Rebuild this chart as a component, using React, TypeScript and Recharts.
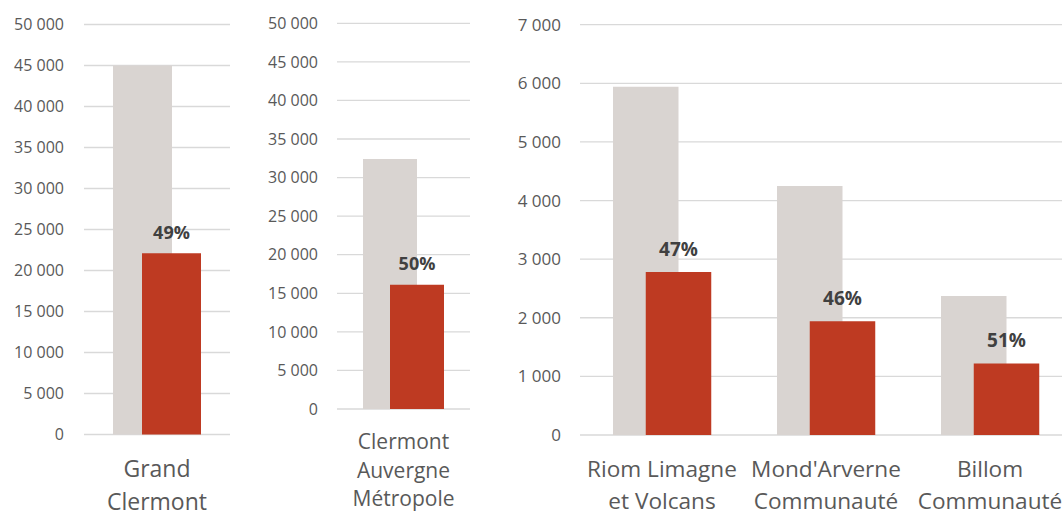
import React from 'react';
import { BarChart, Bar, XAxis, YAxis, CartesianGrid, LabelList } from 'recharts';

// Grand Clermont
const leftCategories = ['Grand\nClermont'];
const leftTotal = [45000];
const leftPart = [22100];
const leftPct = ['49%'];
const leftTicks = [0, 5000, 10000, 15000, 20000, 25000, 30000, 35000, 40000, 45000, 50000];

// Clermont Auvergne Métropole
const midCategories = ['Clermont\nAuvergne\nMétropole'];
const midTotal = [32400];
const midPart = [16100];
const midPct = ['50%'];
const midTicks = [0, 5000, 10000, 15000, 20000, 25000, 30000, 35000, 40000, 45000, 50000];

// communautés
const rightCategories = ['Riom Limagne\net Volcans', "Mond'Arverne\nCommunauté", 'Billom\nCommunauté'];
const rightTotal = [5940, 4250, 2370];
const rightPart = [2780, 1940, 1220];
const rightPct = ['47%', '46%', '51%'];
const rightTicks = [0, 1000, 2000, 3000, 4000, 5000, 6000, 7000];

const GREY = '#d9d4d1';
const RED = '#be3a22';
const FONT = '"Open Sans", sans-serif';

const fmt = (v: number) => v.toString().replace(/\B(?=(\d{3})+(?!\d))/g, ' ');

const CatTick = ({ x, y, payload, first, lh, size }: any) => {
  const lines = String(payload.value).split('\n');
  return (
    <text x={x} y={y} textAnchor="middle" fill="#595959" fontSize={size} fontFamily={FONT}>
      {lines.map((l, i) => (
        <tspan key={i} x={x} dy={i === 0 ? first : lh}>{l}</tspan>
      ))}
    </text>
  );
};

interface PanelProps {
  left: number;
  width: number;
  categories: string[];
  total: number[];
  part: number[];
  pct: string[];
  ticks: number[];
  margin: { top: number; right: number; bottom: number; left: number };
  yWidth: number;
  tickGap: number;
  tickSize: number;
  xHeight: number;
  barSize: number;
  barGap: number;
  catFirst: number;
  catLh: number;
  catSize: number;
  pctSize: number;
  pctOffset: number;
}

const Panel: React.FC<PanelProps> = (p) => {
  const data = p.categories.map((c, i) => ({
    name: c,
    total: p.total[i],
    part: p.part[i],
    pct: p.pct[i],
  }));
  return (
    <div style={{ position: 'absolute', left: p.left, top: 0 }}>
      <BarChart width={p.width} height={512} data={data} margin={p.margin} barSize={p.barSize} barGap={p.barGap}>
        <CartesianGrid vertical={false} stroke="#d9d9d9" strokeWidth={1.3} />
        <XAxis
          dataKey="name"
          axisLine={false}
          tickLine={false}
          tickSize={0}
          tickMargin={0}
          height={p.xHeight}
          interval={0}
          tick={<CatTick first={p.catFirst} lh={p.catLh} size={p.catSize} />}
        />
        <YAxis
          domain={[0, p.ticks[p.ticks.length - 1]]}
          ticks={p.ticks}
          axisLine={false}
          tickLine={false}
          tickSize={0}
          tickMargin={p.tickGap}
          width={p.yWidth}
          tickFormatter={fmt}
          tick={{ fill: '#595959', fontSize: p.tickSize, fontFamily: FONT }}
        />
        <Bar dataKey="total" fill={GREY} isAnimationActive={false} />
        <Bar dataKey="part" fill={RED} isAnimationActive={false}>
          <LabelList
            dataKey="pct"
            position="top"
            offset={p.pctOffset}
            fill="#404040"
            fontSize={p.pctSize}
            fontWeight="bold"
            fontFamily={FONT}
          />
        </Bar>
      </BarChart>
    </div>
  );
};

export default function App() {
  return (
    <div style={{ position: 'fixed', left: 0, top: 0, width: 1062, height: 512, background: '#fff', overflow: 'hidden' }}>
      <Panel
        left={0}
        width={260}
        categories={leftCategories}
        total={leftTotal}
        part={leftPart}
        pct={leftPct}
        ticks={leftTicks}
        margin={{ top: 24.5, right: 30, bottom: 7.5, left: 0 }}
        yWidth={84}
        tickGap={20}
        tickSize={16}
        xHeight={70}
        barSize={59}
        barGap={-30}
        catFirst={42}
        catLh={33}
        catSize={23}
        pctSize={18}
        pctOffset={14}
      />
      <Panel
        left={260}
        width={230}
        categories={midCategories}
        total={midTotal}
        part={midPart}
        pct={midPct}
        ticks={midTicks}
        margin={{ top: 23.3, right: 20, bottom: 8, left: 0 }}
        yWidth={77}
        tickGap={19}
        tickSize={16}
        xHeight={95}
        barSize={54}
        barGap={-27}
        catFirst={40}
        catLh={28.5}
        catSize={21}
        pctSize={18}
        pctOffset={15}
      />
      <Panel
        left={490}
        width={582}
        categories={rightCategories}
        total={rightTotal}
        part={rightPart}
        pct={rightPct}
        ticks={rightTicks}
        margin={{ top: 24.7, right: 0, bottom: 7, left: 0 }}
        yWidth={90}
        tickGap={19}
        tickSize={17}
        xHeight={70}
        barSize={65.5}
        barGap={-32.75}
        catFirst={42}
        catLh={31.5}
        catSize={22.6}
        pctSize={19}
        pctOffset={16}
      />
    </div>
  );
}
